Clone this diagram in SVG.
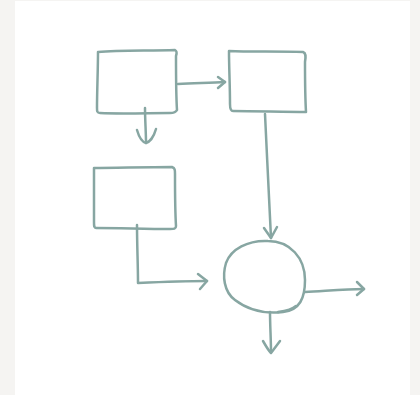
<svg xmlns="http://www.w3.org/2000/svg" width="420" height="395" viewBox="0 0 420 395">
  <defs>
    <style>
      .ink { fill: none; stroke: #87a6a2; stroke-width: 2.5; stroke-linecap: round; stroke-linejoin: round; }
    </style>
  </defs>
  <rect x="0" y="0" width="420" height="395" fill="#f5f4f2"/>
  <rect x="15" y="1" width="395" height="394" fill="#ffffff"/>

  <g id="box1">
    <path class="ink" d="M98,52 C120,50 150,51 175,50 C177,51 177,53 176,56 C176,75 176,95 177,110 C176,112 174,113 170,113 C150,113 120,114 100,113 C97,113 97,111 97,108 C97,90 98,70 98,52 Z"/>
  </g>
  <g id="box2">
    <path class="ink" d="M229,51 C250,52 280,51 303,52 C306,53 306,56 305,62 C305,80 305,95 306,112 C285,112 255,111 233,111 C231,111 230,109 230,104 C230,85 229,68 229,51 Z"/>
  </g>
  <g id="box3">
    <path class="ink" d="M94,168 C115,168 145,167 172,167 C175,168 175,170 175,174 C175,190 175,210 176,226 C176,229 174,229 170,229 C145,229 120,228 96,228 C94,228 94,226 94,222 C94,205 94,185 94,168 Z"/>
  </g>
  <g id="blob">
    <path class="ink" d="M268,241 C290,241 305,258 305,280 C305,298 300,310 283,312 C265,314 248,310 235,300 C224,292 222,276 226,263 C231,249 248,240 268,241 Z"/>
    <path class="ink" d="M278,312 C286,311 293,309 296,306"/>
  </g>

  <g id="connectors">
    <path class="ink" d="M178,84 C195,83 210,83 225,82"/>
    <path class="ink" d="M218,77 L225,82 L218,88"/>

    <path class="ink" d="M145,108 C145,120 146,132 146,143"/>
    <path class="ink" d="M137,130 C139,137 142,142 146,143 C150,142 154,136 156,129"/>

    <path class="ink" d="M137,225 C137,245 138,265 138,283 C160,282 185,281 207,281"/>
    <path class="ink" d="M198,274 L207,281 L200,289"/>

    <path class="ink" d="M265,114 C267,155 269,200 271,238"/>
    <path class="ink" d="M264,228 L271,238 L277,227"/>

    <path class="ink" d="M305,292 C325,291 345,289 364,289"/>
    <path class="ink" d="M357,282 L364,289 L357,295"/>

    <path class="ink" d="M270,312 C270,325 271,340 271,352"/>
    <path class="ink" d="M263,341 C266,346 268,350 271,353 C274,349 277,345 280,341"/>
  </g>
</svg>
